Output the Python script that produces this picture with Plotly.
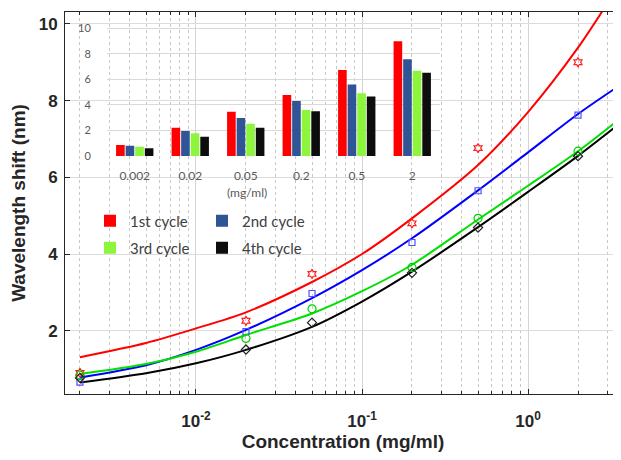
import plotly.graph_objects as go

# ---------------- data ----------------
conc = [0.002, 0.02, 0.05, 0.2, 0.5, 2]
cycles = ["1st cycle", "2nd cycle", "3rd cycle", "4th cycle"]

# measured points (main chart)
pts_1 = [0.90, 2.26, 3.48, 4.80, 6.76, 9.00]
pts_2 = [0.66, 1.98, 2.97, 4.30, 5.65, 7.62]
pts_3 = [0.84, 1.80, 2.57, 3.65, 4.93, 6.68]
pts_4 = [0.77, 1.51, 2.21, 3.51, 4.69, 6.55]

# fitted curves
fit_x_1 = [0.002, 0.005, 0.01, 0.02, 0.05, 0.1, 0.2, 0.5, 1, 2, 3.2]
fit_1 = [1.31, 1.68, 2.06, 2.48, 3.27, 4.00, 4.93, 6.32, 7.70, 9.38, 10.72]
fit_x = [0.002, 0.005, 0.01, 0.02, 0.05, 0.1, 0.2, 0.5, 1, 2, 3.63]
fit_2 = [0.78, 1.10, 1.50, 2.02, 2.85, 3.58, 4.41, 5.66, 6.65, 7.65, 8.42]
fit_3 = [0.87, 1.13, 1.45, 1.89, 2.45, 3.03, 3.72, 4.90, 5.78, 6.68, 7.55]
fit_4 = [0.65, 0.89, 1.15, 1.50, 2.10, 2.76, 3.54, 4.70, 5.62, 6.56, 7.43]

# inset bar chart
bar_cats = ["0.002", "0.02", "0.05", "0.2", "0.5", "2"]
bar_1 = [0.86, 2.22, 3.47, 4.78, 6.74, 8.98]
bar_2 = [0.81, 1.96, 2.98, 4.31, 5.61, 7.57]
bar_3 = [0.73, 1.78, 2.53, 3.60, 4.91, 6.68]
bar_4 = [0.60, 1.51, 2.22, 3.50, 4.67, 6.53]

x_ticks = [0.01, 0.1, 1]
x_tick_labels = ["10<sup>-2</sup>", "10<sup>-1</sup>", "10<sup>0</sup>"]
y_ticks = [2, 4, 6, 8, 10]
inset_y_ticks = [0, 2, 4, 6, 8, 10]

# ---------------- styles ----------------
line_colors = ["#ff0000", "#0000ff", "#00e000", "#000000"]
marker_colors = ["#ff2020", "#5050ff", "#00d000", "#202020"]
marker_symbols = ["hexagram-open", "square-open", "circle-open", "diamond-open"]
marker_sizes = [7, 6, 8, 7]
bar_colors = ["#ff0000", "#2f5597", "#8cf53c", "#0d0d0d"]

# the page body has an 8px margin: figure is placed at (8, 8) in the window
OFF = 8
W, H = 621, 460 - 2 * OFF
ML, MT = 65 - OFF, 12 - OFF
MR = W - (621 - OFF)
MB = H - (394 - OFF)
PW, PH = W - ML - MR, H - MT - MB


def px_x(p):
    """window pixel x -> paper fraction"""
    return (p - OFF - ML) / PW


def px_y(p):
    """window pixel y -> paper fraction"""
    return (H - MB - (p - OFF)) / PH


fig = go.Figure()

fit_xs = [fit_x_1, fit_x, fit_x, fit_x]
fits = [fit_1, fit_2, fit_3, fit_4]
pts = [pts_1, pts_2, pts_3, pts_4]
bars = [bar_1, bar_2, bar_3, bar_4]

for i in range(4):
    fig.add_trace(go.Scatter(
        x=fit_xs[i], y=fits[i], mode="lines",
        line=dict(color=line_colors[i], width=2, shape="spline", smoothing=0.8),
        showlegend=False, hoverinfo="skip", xaxis="x", yaxis="y"))
for i in range(4):
    fig.add_trace(go.Scatter(
        x=conc, y=pts[i], mode="markers",
        marker=dict(symbol=marker_symbols[i], size=marker_sizes[i],
                    color=marker_colors[i],
                    line=dict(width=1.2, color=marker_colors[i])),
        showlegend=False, xaxis="x", yaxis="y"))

legend_names = ["legend", "legend2", "legend3", "legend4"]
for i in range(4):
    fig.add_trace(go.Bar(
        x=bar_cats, y=bars[i], name=cycles[i],
        marker=dict(color=bar_colors[i], line=dict(width=0)),
        xaxis="x2", yaxis="y2", legend=legend_names[i]))

title_font = dict(family="Liberation Sans, Arial", size=19, color="#262626", weight="bold")
tick_font = dict(family="Liberation Sans, Arial", size=17, color="#262626", weight="bold")
inset_font = dict(family="Lato, Open Sans", size=12, color="#595959")
legend_font = dict(family="Lato, Open Sans", size=15, color="#404040")

# legend box left edges / row centres (window pixels)
leg_pos = [(90, 221), (202, 221), (90, 248), (202, 248)]
legend_layout = {}
for i, name in enumerate(legend_names):
    lx, ly = leg_pos[i]
    legend_layout[name] = dict(
        x=px_x(lx), y=px_y(ly), xanchor="left", yanchor="middle",
        bgcolor="rgba(0,0,0,0)", borderwidth=0, font=legend_font,
        orientation="h")

fig.update_layout(
    width=W, height=H,
    margin=dict(l=ML, r=MR, t=MT, b=MB),
    paper_bgcolor="white",
    plot_bgcolor="rgba(0,0,0,0)",
    barmode="group", bargap=0.31, bargroupgap=0.1,
    xaxis=dict(
        type="log", range=[-2.789, 0.56], domain=[0, 1], automargin=False,
        tickvals=x_ticks, ticktext=x_tick_labels, ticklabelstandoff=12,
        tickfont=tick_font, ticks="inside", ticklen=5, tickcolor="#262626",
        showline=True, linecolor="#262626", linewidth=1, mirror="ticks",
        showgrid=True, gridcolor="#d4d4d4", gridwidth=1, zeroline=False,
        minor=dict(ticks="inside", ticklen=3, tickcolor="#262626", dtick="D1",
                   showgrid=True, gridcolor="#c8c8c8", griddash="dot", gridwidth=1),
        title=dict(text="Concentration (mg/ml)", font=title_font, standoff=5),
        anchor="y",
    ),
    yaxis=dict(
        range=[0.35, 10.31], domain=[0, 1], tickvals=y_ticks, automargin=False,
        ticklabelstandoff=3,
        tickfont=tick_font, ticks="inside", ticklen=5, tickcolor="#262626",
        showline=True, linecolor="#262626", linewidth=1, mirror=False,
        showgrid=True, gridcolor="#dcdcdc", gridwidth=1, zeroline=False,
        title=dict(text="Wavelength shift (nm)", font=title_font, standoff=10),
        anchor="x",
    ),
    xaxis2=dict(
        domain=[px_x(107), px_x(440)], anchor="y2", type="category", automargin=False,
        showgrid=False, showline=False, zeroline=False,
        ticks="outside", ticklen=9, tickcolor="rgba(0,0,0,0)",
        tickfont=inset_font,
    ),
    yaxis2=dict(
        domain=[px_y(156), px_y(24.5)], anchor="x2", range=[0, 10.3], automargin=False,
        tickvals=inset_y_ticks, showgrid=True, gridcolor="#d9d9d9", gridwidth=1,
        showline=False, zeroline=False,
        ticks="outside", ticklen=13, tickcolor="rgba(0,0,0,0)",
        tickfont=dict(family="Lato, Open Sans", size=11, color="#595959"),
    ),
    annotations=[dict(
        text="(mg/ml)", xref="paper", yref="paper",
        x=px_x(247), y=px_y(192), xanchor="center", yanchor="middle",
        showarrow=False, font=inset_font)],
    **legend_layout,
)

fig.write_html("out.html")
